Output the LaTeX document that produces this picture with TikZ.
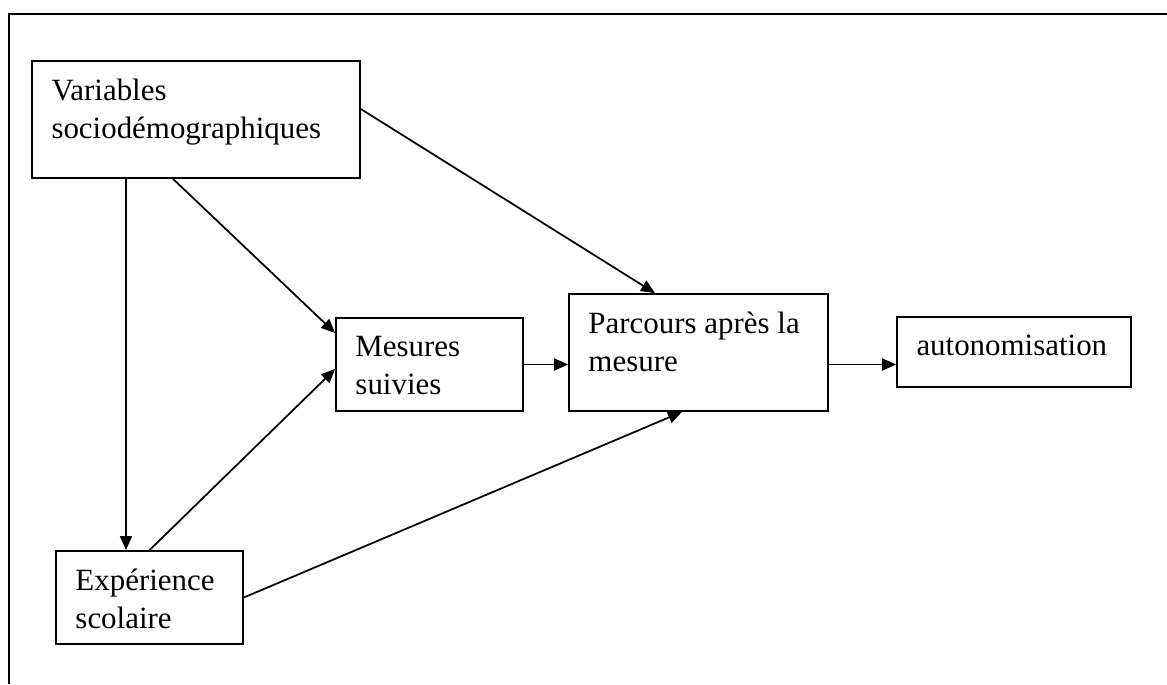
\documentclass[tikz,border=0pt]{standalone}
\usepackage{fontspec}
\setmainfont{Liberation Serif}
\usetikzlibrary{arrows.meta}

\tikzset{
  box/.style={draw, rectangle, line width=1pt, inner sep=0pt},
  lbl/.style={anchor=north west, inner sep=0pt, align=left,
    font=\fontsize{17.6}{21.3}\selectfont},
  arr/.style={-{Triangle[length=0.28cm,width=0.24cm]}, line width=1pt}
}

\begin{document}
\begin{tikzpicture}[x=0.02cm,y=-0.02cm]
    \useasboundingbox (0,0) rectangle (1167,684);
    % frame, open at right and bottom
    \draw[line width=1pt] (9,684) -- (9,14) -- (1167,14);

    \node (var) at (196,119.5) [box,minimum width=6.56cm,minimum height=2.34cm] {};
    \node[lbl] at ([shift={(0.4cm,-0.38cm)}]var.north west) {Variables\\sociodémographiques};
    \node (mes) at (429.5,364.5) [box,minimum width=3.74cm,minimum height=1.86cm] {};
    \node[lbl] at ([shift={(0.4cm,-0.38cm)}]mes.north west) {Mesures\\suivies};
    \node (par) at (698.5,352.5) [box,minimum width=5.18cm,minimum height=2.34cm] {};
    \node[lbl] at ([shift={(0.4cm,-0.38cm)}]par.north west) {Parcours après la\\mesure};
    \node (aut) at (1014,352) [box,minimum width=4.68cm,minimum height=1.4cm] {};
    \node[lbl] at ([shift={(0.4cm,-0.38cm)}]aut.north west) {autonomisation};
    \node (exp) at (149.5,597.5) [box,minimum width=3.74cm,minimum height=1.86cm] {};
    \node[lbl] at ([shift={(0.4cm,-0.38cm)}]exp.north west) {Expérience\\scolaire};

    \draw[arr] ([xshift=-1.4cm]var.south) -- ([xshift=-0.47cm]exp.north);
    \draw[arr] ([xshift=-0.46cm]var.south) -- ([yshift=0.63cm]mes.west);
    \draw[arr] ([yshift=0.21cm]var.east) -- ([xshift=-0.87cm]par.north);
    \draw[arr] (exp.north) -- ([yshift=-0.09cm]mes.west);
    \draw[arr] (exp.east) -- ([xshift=-0.33cm]par.south);
    \draw[arr] (mes.east) -- (mes.east -| par.west);
    \draw[arr] (par.east |- mes.east) -- (aut.west |- mes.east);
\end{tikzpicture}
\end{document}
